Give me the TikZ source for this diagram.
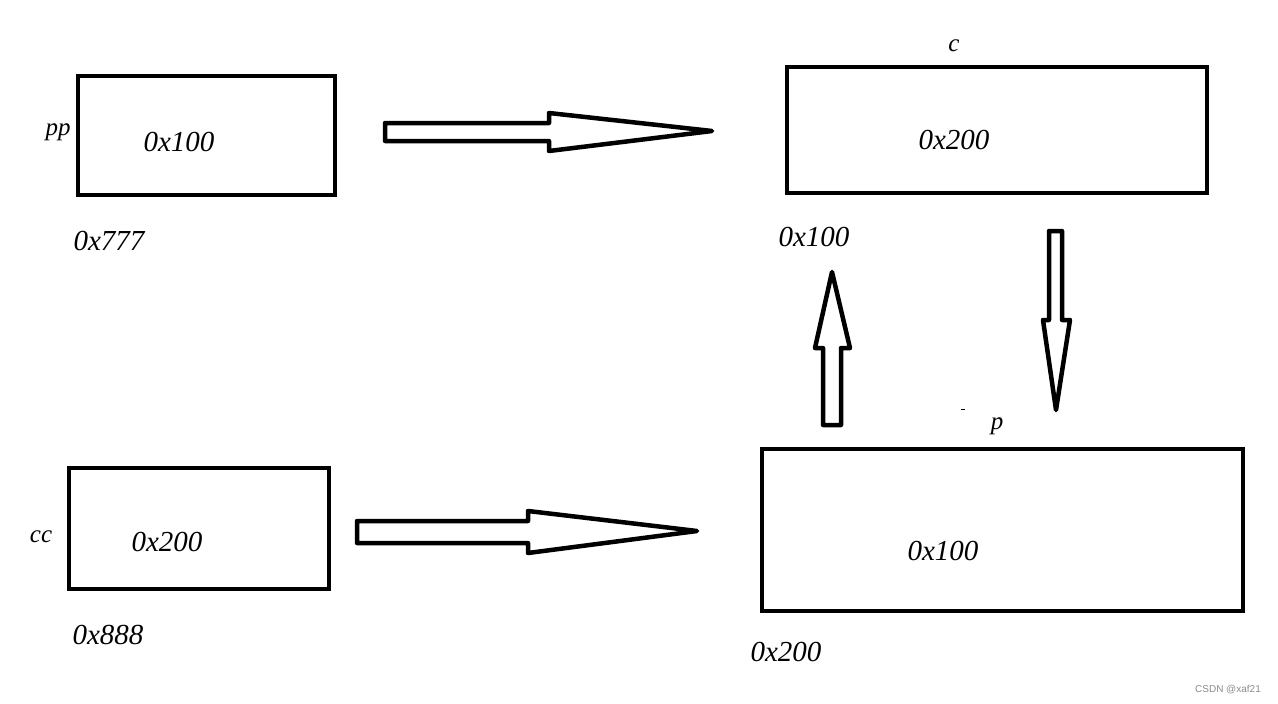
\documentclass[tikz,border=0pt]{standalone}
\usepackage{fontspec}
\setmainfont{Liberation Serif}
\newfontfamily\wmfont{Liberation Sans}
\begin{document}
\begin{tikzpicture}[x=1pt,y=-1pt,
  box/.style={draw=black,line width=4pt,inner sep=0pt,outer sep=0pt,fill=white},
  blockarrow/.style={draw=black,line width=4.5pt,line join=round,fill=white},
  val/.style={font=\fontsize{29}{31}\selectfont\itshape},
  lab/.style={font=\fontsize{25}{27}\selectfont\itshape}]
\useasboundingbox[fill=white] (0,0) rectangle (1278,704);
% boxes
\node[box,minimum width=257pt,minimum height=119pt] (pp) at (206.5,135.5) {};
\node[box,minimum width=420pt,minimum height=126pt] (c) at (997,130) {};
\node[box,minimum width=260pt,minimum height=121pt] (cc) at (199,528.5) {};
\node[box,minimum width=481pt,minimum height=162pt] (p) at (1002.5,530) {};
% texts
\node[lab] (pplab) at (58,132) {pp};
\node[val] (ppval) at (179,142) {0x100};
\node[val] (ppaddr) at (109,241) {0x777};
\node[lab] (clab) at (954,46) {c};
\node[val] (cval) at (954,140) {0x200};
\node[val] (caddr) at (814,237) {0x100};
\node[lab] (cclab) at (41,537) {cc};
\node[val] (ccval) at (167,542) {0x200};
\node[val] (ccaddr) at (108,635) {0x888};
\node[lab] (plab) at (997,426) {p};
\node[val] (pval) at (943,551) {0x100};
\node[val] (paddr) at (786,652) {0x200};
\node[font=\wmfont\fontsize{10}{12}\selectfont,text=black!45] (wm) at (1228,690) {CSDN @xaf21};
% block arrows
\draw[blockarrow] (385,123) -- (549,123) -- (549,113) -- (712,131) -- (549,151) -- (549,141) -- (385,141) -- cycle;
\draw[blockarrow] (357,521) -- (528,521) -- (528,511) -- (697,531) -- (528,553) -- (528,543) -- (357,543) -- cycle;
\draw[blockarrow] (1049,231) -- (1062,231) -- (1062,320) -- (1070,320) -- (1056,410) -- (1043,320) -- (1049,320) -- cycle;
\draw[blockarrow] (823,425) -- (823,348) -- (815,348) -- (832,272) -- (850,348) -- (841,348) -- (841,425) -- cycle;
% tiny mark
\draw[line width=1pt] (961,409) -- (965,409);
\end{tikzpicture}
\end{document}
